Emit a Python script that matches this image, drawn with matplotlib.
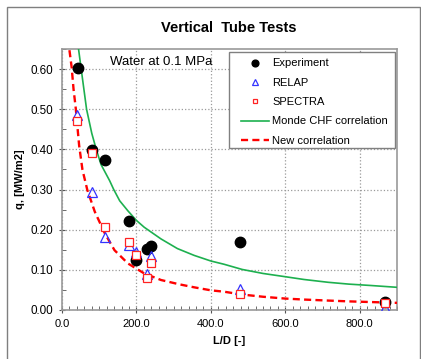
import matplotlib
matplotlib.use("Agg")
import matplotlib.pyplot as plt
from matplotlib.patches import Rectangle
from matplotlib.ticker import MultipleLocator, FormatStrFormatter

# measured points
exp_x = [42, 81, 115, 180, 199, 229, 240, 478, 868]
exp_q = [0.603, 0.398, 0.373, 0.221, 0.124, 0.153, 0.159, 0.169, 0.021]

relap_x = [40, 80, 115, 179, 199, 228, 239, 478, 868]
relap_q = [0.486, 0.293, 0.181, 0.162, 0.145, 0.090, 0.134, 0.053, 0.004]

spectra_x = [41, 81, 116, 180, 199, 229, 240, 478, 868]
spectra_q = [0.471, 0.392, 0.206, 0.170, 0.137, 0.080, 0.117, 0.040, 0.017]

# correlation curves
monde_x = [43, 51, 66, 80, 92, 105, 128, 139, 155, 177, 200, 221, 266,
           310, 355, 400, 435, 484, 540, 599, 650, 715, 770, 830, 900]
monde_q = [0.660, 0.604, 0.500, 0.440, 0.400, 0.362, 0.322, 0.300, 0.272,
           0.247, 0.223, 0.206, 0.177, 0.153, 0.136, 0.122, 0.114, 0.101,
           0.091, 0.083, 0.076, 0.069, 0.0645, 0.061, 0.0565]

new_x = [20, 26, 31, 37, 46, 55, 68, 88, 115, 141, 177, 221, 266, 315,
         355, 400, 435, 484, 540, 599, 650, 715, 770, 830, 900]
new_q = [0.647, 0.604, 0.550, 0.502, 0.410, 0.349, 0.299, 0.245, 0.191,
         0.149, 0.116, 0.091, 0.0747, 0.064, 0.0565, 0.049, 0.0456, 0.0385,
         0.033, 0.0285, 0.026, 0.0235, 0.0215, 0.0198, 0.0178]

plt.rcParams["font.family"] = "Liberation Sans"

fig = plt.figure(figsize=(4.21, 3.59), dpi=100)
fig.patches.append(Rectangle((7 / 421, -0.1), 413 / 421, 1.1 - 7 / 359,
                             transform=fig.transFigure, fill=False,
                             edgecolor="#7f7f7f", linewidth=1.0))

ax = fig.add_axes([62 / 421, 1 - 310 / 359, 335 / 421, 261 / 359])

ax.plot(exp_x, exp_q, "o", color="black", markersize=7.5, label="Experiment", zorder=5)
ax.plot(relap_x, relap_q, "^", color="#3333ff", markerfacecolor="none",
        markersize=6.5, markeredgewidth=0.9, label="RELAP", zorder=6)
ax.plot(spectra_x, spectra_q, "s", color="#ff2222", markerfacecolor="white",
        markersize=5.5, markeredgewidth=0.9, label="SPECTRA", zorder=7)
ax.plot(monde_x, monde_q, "-", color="#1db04f", linewidth=1.2,
        label="Monde CHF correlation", zorder=3)
ax.plot(new_x, new_q, "--", color="#ff0000", linewidth=1.7, dashes=(3, 1.8),
        label="New correlation", zorder=4)

ax.set_xlim(0, 900)
ax.set_ylim(0, 0.65)
ax.xaxis.set_major_locator(MultipleLocator(200))
ax.xaxis.set_minor_locator(MultipleLocator(20))
ax.yaxis.set_major_locator(MultipleLocator(0.1))
ax.yaxis.set_minor_locator(MultipleLocator(0.05))
ax.xaxis.set_major_formatter(FormatStrFormatter("%.1f"))
ax.yaxis.set_major_formatter(FormatStrFormatter("%.2f"))
ax.tick_params(which="major", direction="inout", length=5, width=0.8,
               color="#555555", labelsize=8)
ax.tick_params(axis="x", which="major", pad=4)
ax.tick_params(axis="y", which="major", pad=4, labelsize=8.4)
ax.tick_params(which="minor", direction="in", length=3, width=0.6, color="#555555")
ax.grid(which="major", color="#9a9a9a", linestyle=":", linewidth=0.9)
for s in ax.spines.values():
    s.set_color("#999999")
    s.set_linewidth(1.2)

ax.set_xlabel("L/D [-]", fontsize=8, fontweight="bold", labelpad=5)
ax.set_ylabel("q, [MW/m2]", fontsize=8, fontweight="bold", labelpad=4)
fig.text(229 / 421, 1 - 28 / 359, "Vertical  Tube Tests", ha="center", va="center",
         fontsize=10.5, fontweight="bold")
ax.text(128, 0.617, "Water at 0.1 MPa", fontsize=9.5, va="center", ha="left")

# legend box drawn separately so its size matches the reference
ax.add_patch(Rectangle((167 / 335, 162 / 261), 166 / 335, 96 / 261,
                       transform=ax.transAxes, facecolor="white",
                       edgecolor="#808080", linewidth=1.0, zorder=8))
leg = ax.legend(loc="upper left", bbox_to_anchor=(179 / 335, 251.5 / 261), fontsize=8,
                frameon=False, handlelength=2.5, handletextpad=0.3,
                labelspacing=0.84, borderpad=0, markerscale=0.65, borderaxespad=0)
leg.set_zorder(9)

fig.savefig("out.png", dpi=100)
